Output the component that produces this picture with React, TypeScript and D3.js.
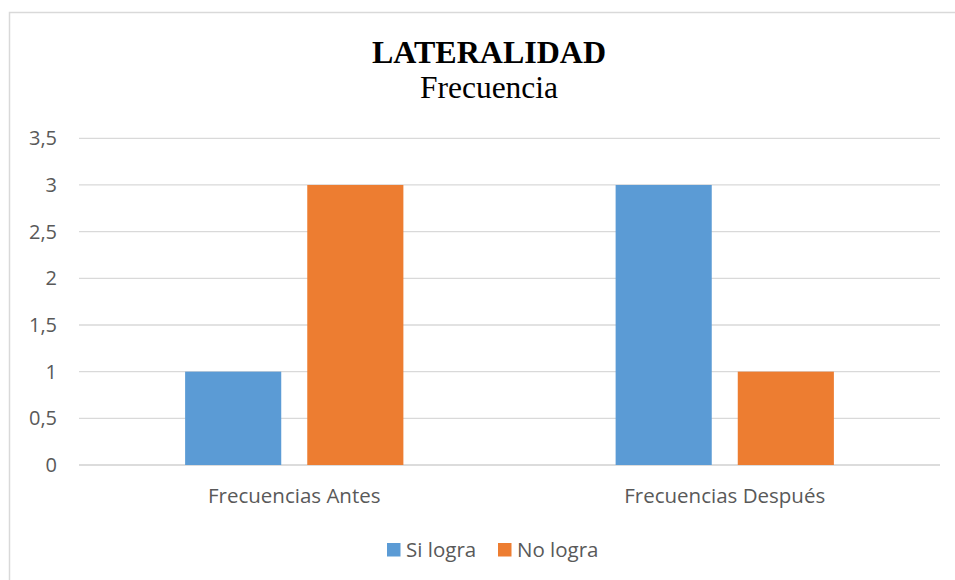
import React, { useEffect, useRef } from 'react';
import * as d3 from 'd3';

const categories = ['Frecuencias Antes', 'Frecuencias Después'];
const seriesNames = ['Si logra', 'No logra'];
const siLogra = [1, 3];
const noLogra = [3, 1];
const yTicks = [0, 0.5, 1, 1.5, 2, 2.5, 3, 3.5];
const colors = ['#5B9BD5', '#ED7D31'];

const App = () => {
  const ref = useRef<SVGSVGElement>(null);

  useEffect(() => {
    const svg = d3.select(ref.current);
    svg.selectAll('*').remove();

    const width = 955;
    const height = 580;
    const left = 79, right = 940, top = 138.3, bottom = 465;
    const font = "'Open Sans', 'Liberation Sans', sans-serif";
    const serif = "'Liberation Serif', 'Times New Roman', serif";

    svg.attr('width', width).attr('height', height);

    // chart frame
    svg.append('rect')
      .attr('x', 9.5).attr('y', 12.5)
      .attr('width', 960).attr('height', 600)
      .style('fill', '#fff')
      .style('stroke', '#d9d9d9')
      .style('stroke-width', 1.5);

    const y = d3.scaleLinear().domain([0, 3.5]).range([bottom, top]);
    const x = d3.scaleBand().domain(categories).range([left, right]).padding(0);
    const bw = x.bandwidth();
    const xSub = d3.scaleBand()
      .domain(seriesNames)
      .range([bw * 0.2465, bw * 0.7535])
      .paddingInner(0.213)
      .paddingOuter(0);

    // gridlines
    svg.append('g')
      .selectAll('line')
      .data(yTicks)
      .enter()
      .append('line')
      .attr('x1', left).attr('x2', right)
      .attr('y1', d => y(d)).attr('y2', d => y(d))
      .style('stroke', d => d === 0 ? '#d0d0d0' : '#d9d9d9')
      .style('stroke-width', 1.3);

    // y labels
    svg.append('g')
      .selectAll('text')
      .data(yTicks)
      .enter()
      .append('text')
      .attr('x', 57)
      .attr('y', d => y(d) + 7)
      .attr('text-anchor', 'end')
      .style('font-family', font)
      .style('font-size', '20px')
      .style('fill', '#595959')
      .text(d => String(d).replace('.', ','));

    const rows = categories.map((c, i) => ({ cat: c, values: [siLogra[i], noLogra[i]] }));

    const groups = svg.selectAll('.grp')
      .data(rows)
      .enter()
      .append('g')
      .attr('class', 'grp')
      .attr('transform', d => `translate(${x(d.cat)},0)`);

    groups.selectAll('rect')
      .data(d => d.values.map((v, j) => ({ name: seriesNames[j], v, j })))
      .enter()
      .append('rect')
      .attr('x', d => xSub(d.name) as number)
      .attr('width', xSub.bandwidth())
      .attr('y', d => y(d.v))
      .attr('height', d => bottom - y(d.v))
      .style('fill', d => colors[d.j]);

    // category labels
    svg.append('g')
      .selectAll('text')
      .data(categories)
      .enter()
      .append('text')
      .attr('x', d => (x(d) as number) + bw / 2)
      .attr('y', 503)
      .attr('text-anchor', 'middle')
      .style('font-family', font)
      .style('font-size', '20.5px')
      .style('fill', '#595959')
      .text(d => d);

    // title
    svg.append('text')
      .attr('x', 489).attr('y', 63)
      .attr('text-anchor', 'middle')
      .style('font-family', serif)
      .style('font-weight', 'bold')
      .style('font-size', '32px')
      .style('fill', '#000')
      .text('LATERALIDAD');

    svg.append('text')
      .attr('x', 489).attr('y', 98)
      .attr('text-anchor', 'middle')
      .style('font-family', serif)
      .style('font-size', '31.5px')
      .style('fill', '#000')
      .text('Frecuencia');

    // legend
    const legendX = [387, 498];
    const legend = svg.append('g');
    const items = legend.selectAll('g')
      .data(seriesNames)
      .enter()
      .append('g')
      .attr('transform', (d, i) => `translate(${legendX[i]},543)`);

    items.append('rect')
      .attr('width', 13.5).attr('height', 13.5)
      .style('fill', (d, i) => colors[i]);

    items.append('text')
      .attr('x', 19).attr('y', 13.5)
      .style('font-family', font)
      .style('font-size', '20.5px')
      .style('fill', '#595959')
      .text(d => d);
  }, []);

  return <svg ref={ref} style={{ display: 'block', position: 'absolute', left: 0, top: 0 }}></svg>;
};

export default App;
